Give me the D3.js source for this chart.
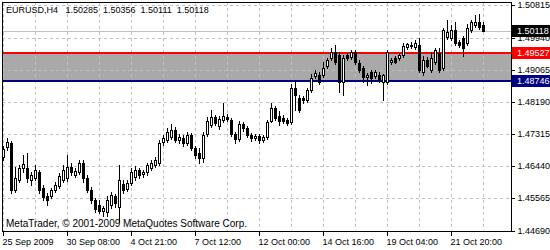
<!DOCTYPE html>
<html>
<head>
<meta charset="utf-8">
<script src="https://cdn.jsdelivr.net/npm/d3@7"></script>
<style>
body{margin:0;background:#fff;}
svg text{font-family:"Liberation Sans",Arial,sans-serif;font-size:9px;}
</style>
</head>
<body>
<script>
//chart texts
var titleText = "EURUSD,H4   1.50285  1.50356  1.50111  1.50118";
var copyText = "MetaTrader, \u00a9 2001-2009 MetaQuotes Software Corp.";

//price levels on the right scale
var priceTicks = [1.44690, 1.45565, 1.46440, 1.47315, 1.48190, 1.49065, 1.49940, 1.50815];

//date labels, one every 16 bars
var dateLabels = ["25 Sep 2009", "30 Sep 08:00", "4 Oct 21:00", "7 Oct 12:00",
                  "12 Oct 00:00", "14 Oct 16:00", "19 Oct 04:00", "21 Oct 20:00"];

//horizontal objects
var bidPrice = 1.50118;
var upperLevel = 1.49527;
var lowerLevel = 1.48746;

//H4 candles
var opens = [
1.4670,1.4697,1.4708,1.4580,1.4607,1.4640,1.4640,1.4607,1.4613,1.4629,
1.4586,1.4564,1.4564,1.4580,1.4591,1.4607,1.4613,1.4642,1.4621,1.4629,
1.4653,1.4613,1.4580,1.4553,1.4540,1.4523,1.4520,1.4540,1.4564,1.4534,
1.4596,1.4583,1.4599,1.4615,1.4634,1.4624,1.4629,1.4640,1.4648,1.4653,
1.4710,1.4716,1.4724,1.4743,1.4716,1.4721,1.4708,1.4729,1.4694,1.4680,
1.4667,1.4732,1.4756,1.4778,1.4754,1.4770,1.4778,1.4770,1.4732,1.4718,
1.4759,1.4748,1.4729,1.4721,1.4726,1.4716,1.4724,1.4767,1.4802,1.4781,
1.4775,1.4770,1.4764,1.4857,1.4829,1.4829,1.4824,1.4851,1.4889,1.4892,
1.4892,1.4916,1.4938,1.4954,1.4946,1.4873,1.4946,1.4941,1.4954,1.4924,
1.4911,1.4886,1.4900,1.4889,1.4892,1.4873,1.4873,1.4927,1.4938,1.4938,
1.4946,1.4968,1.4973,1.4968,1.4973,1.4900,1.4932,1.4905,1.4927,1.4951,
1.4911,1.4995,1.4992,1.5014,1.4981,1.4992,1.4978,1.5014,1.5027,1.5035,
1.50285];

var highs = [
1.4699,1.4721,1.4713,1.4642,1.4648,1.4675,1.4680,1.4629,1.4648,1.4634,
1.4594,1.4572,1.4586,1.4602,1.4626,1.4648,1.4675,1.4653,1.4640,1.4661,
1.4661,1.4621,1.4588,1.4558,1.4553,1.4537,1.4564,1.4575,1.4569,1.4648,
1.4607,1.4607,1.4640,1.4645,1.4640,1.4634,1.4653,1.4661,1.4670,1.4716,
1.4729,1.4748,1.4759,1.4751,1.4732,1.4729,1.4737,1.4735,1.4699,1.4694,
1.4737,1.4778,1.4797,1.4783,1.4781,1.4816,1.4786,1.4775,1.4737,1.4767,
1.4764,1.4754,1.4735,1.4732,1.4732,1.4729,1.4770,1.4816,1.4808,1.4794,
1.4783,1.4775,1.4867,1.4878,1.4838,1.4835,1.4857,1.4895,1.4905,1.4900,
1.4927,1.4938,1.4965,1.4973,1.4954,1.4946,1.4951,1.4960,1.4960,1.4932,
1.4916,1.4897,1.4905,1.4905,1.4900,1.4895,1.4960,1.4938,1.4943,1.4951,
1.4978,1.4978,1.4981,1.4987,1.4992,1.4943,1.4941,1.4954,1.4965,1.4965,
1.5019,1.5041,1.5027,1.5035,1.4987,1.4997,1.5030,1.5041,1.5054,1.5057,
1.50356];

var lows = [
1.4661,1.4689,1.4572,1.4575,1.4602,1.4629,1.4602,1.4594,1.4607,1.4572,
1.4553,1.4540,1.4558,1.4575,1.4586,1.4602,1.4605,1.4621,1.4615,1.4624,
1.4602,1.4575,1.4545,1.4520,1.4518,1.4510,1.4510,1.4531,1.4534,1.4493,
1.4572,1.4577,1.4594,1.4607,1.4613,1.4615,1.4621,1.4634,1.4642,1.4648,
1.4702,1.4710,1.4718,1.4710,1.4708,1.4699,1.4702,1.4689,1.4667,1.4653,
1.4656,1.4726,1.4751,1.4756,1.4745,1.4764,1.4767,1.4726,1.4708,1.4713,
1.4740,1.4724,1.4713,1.4716,1.4708,1.4710,1.4718,1.4764,1.4770,1.4756,
1.4762,1.4756,1.4759,1.4797,1.4792,1.4816,1.4819,1.4846,1.4884,1.4867,
1.4886,1.4911,1.4932,1.4922,1.4846,1.4838,1.4932,1.4935,1.4922,1.4900,
1.4873,1.4865,1.4870,1.4884,1.4873,1.4824,1.4867,1.4922,1.4924,1.4932,
1.4941,1.4962,1.4965,1.4962,1.4900,1.4892,1.4913,1.4900,1.4922,1.4900,
1.4905,1.4989,1.4987,1.4973,1.4968,1.4943,1.4973,1.5008,1.5022,1.5016,
1.50111];

var closes = [
1.4691,1.4710,1.4580,1.4613,1.4640,1.4651,1.4613,1.4621,1.4634,1.4580,
1.4561,1.4553,1.4580,1.4594,1.4618,1.4634,1.4642,1.4629,1.4632,1.4653,
1.4613,1.4580,1.4553,1.4529,1.4523,1.4531,1.4553,1.4567,1.4545,1.4607,
1.4580,1.4599,1.4629,1.4634,1.4621,1.4629,1.4648,1.4653,1.4661,1.4708,
1.4721,1.4737,1.4743,1.4716,1.4724,1.4708,1.4729,1.4694,1.4675,1.4667,
1.4729,1.4767,1.4778,1.4762,1.4772,1.4781,1.4772,1.4732,1.4718,1.4759,
1.4748,1.4729,1.4721,1.4726,1.4716,1.4724,1.4764,1.4802,1.4775,1.4767,
1.4767,1.4762,1.4857,1.4838,1.4797,1.4824,1.4851,1.4884,1.4897,1.4873,
1.4911,1.4932,1.4954,1.4927,1.4873,1.4938,1.4938,1.4954,1.4927,1.4905,
1.4886,1.4892,1.4884,1.4900,1.4878,1.4892,1.4954,1.4932,1.4927,1.4946,
1.4970,1.4976,1.4970,1.4978,1.4905,1.4932,1.4916,1.4938,1.4960,1.4905,
1.5014,1.5008,1.5014,1.4978,1.4973,1.4965,1.5019,1.5035,1.5035,1.5022,
1.50118];

(function(){

    var width = 550, height = 250;
    var left = 2, right = 511, top = 2, bottom = 231;

    var svg = d3.select("body")
        .append("svg")
        .attr("width", width)
        .attr("height", height)
        .attr("shape-rendering", "crispEdges");

    //bar index -> x, price -> y
    var x = d3.scaleLinear()
        .domain([0, opens.length - 1])
        .range([3, 3 + 4 * (opens.length - 1)]);

    var y = d3.scaleLinear()
        .domain([1.44690, 1.50815])
        .range([230.7, 5.3]);

    function py(p){ return Math.round(y(p)); }

    //grey rectangle between the two levels
    svg.append("rect")
        .attr("x", left)
        .attr("y", py(upperLevel))
        .attr("width", right - left)
        .attr("height", py(lowerLevel) - py(upperLevel))
        .attr("fill", "#a9a9a9");

    //grid
    var vGrid = d3.range(0, opens.length, 8);
    svg.selectAll(".vgrid")
        .data(vGrid)
        .enter()
        .append("line")
        .attr("class", "vgrid")
        .attr("x1", function(d){ return Math.round(x(d)) + 0.5; })
        .attr("x2", function(d){ return Math.round(x(d)) + 0.5; })
        .attr("y1", top)
        .attr("y2", bottom)
        .attr("stroke", "#c0c0c0")
        .attr("stroke-dasharray", "3,3");

    svg.selectAll(".hgrid")
        .data(priceTicks)
        .enter()
        .append("line")
        .attr("class", "hgrid")
        .attr("x1", left)
        .attr("x2", right)
        .attr("y1", function(d){ return py(d) + 0.5; })
        .attr("y2", function(d){ return py(d) + 0.5; })
        .attr("stroke", "#c0c0c0")
        .attr("stroke-dasharray", "3,3");

    //bid line
    svg.append("line")
        .attr("x1", left).attr("x2", right)
        .attr("y1", py(bidPrice) + 0.5).attr("y2", py(bidPrice) + 0.5)
        .attr("stroke", "#c0c0c0");

    //level lines
    svg.append("rect")
        .attr("x", left).attr("width", right - left)
        .attr("y", py(upperLevel) - 1).attr("height", 2)
        .attr("fill", "#ff0000");
    svg.append("rect")
        .attr("x", left).attr("width", right - left)
        .attr("y", py(lowerLevel) - 1).attr("height", 2)
        .attr("fill", "#000080");

    //chart texts
    svg.append("text")
        .attr("x", 6).attr("y", 13)
        .style("white-space", "pre")
        .text(titleText);
    svg.append("text")
        .attr("x", 6).attr("y", 227)
        .style("font-size", "10px")
        .text(copyText);

    //candles
    var bars = d3.range(opens.length);
    var candle = svg.selectAll(".candle")
        .data(bars)
        .enter()
        .append("g")
        .attr("class", "candle");

    candle.append("rect")
        .attr("x", function(i){ return Math.round(x(i)); })
        .attr("width", 1)
        .attr("y", function(i){ return py(highs[i]); })
        .attr("height", function(i){ return py(lows[i]) - py(highs[i]) + 1; })
        .attr("fill", "#000");

    candle.append("rect")
        .attr("x", function(i){ return Math.round(x(i)) - 1; })
        .attr("width", 3)
        .attr("y", function(i){ return py(Math.max(opens[i], closes[i])); })
        .attr("height", function(i){ return py(Math.min(opens[i], closes[i])) - py(Math.max(opens[i], closes[i])) + 1; })
        .attr("fill", "#000");

    //white inside of bull bodies
    candle.filter(function(i){
            return closes[i] > opens[i] && py(opens[i]) - py(closes[i]) >= 2;
        })
        .append("rect")
        .attr("x", function(i){ return Math.round(x(i)); })
        .attr("width", 1)
        .attr("y", function(i){ return py(closes[i]) + 1; })
        .attr("height", function(i){ return py(opens[i]) - py(closes[i]) - 1; })
        .attr("fill", "#fff");

    //frame
    svg.append("rect")
        .attr("x", left + 0.5).attr("y", top + 0.5)
        .attr("width", right - left).attr("height", bottom - top)
        .attr("fill", "none")
        .attr("stroke", "#000");

    //price scale
    var yAxis = svg.append("g")
        .attr("transform", "translate(" + (right + 0.5) + ",0)")
        .call(d3.axisRight(y)
            .tickValues(priceTicks)
            .tickFormat(d3.format(".5f"))
            .tickSize(3)
            .tickPadding(3));
    yAxis.select(".domain").remove();
    yAxis.selectAll(".tick").attr("transform", function(d){ return "translate(0," + (py(d) + 0.5) + ")"; });
    yAxis.selectAll("text").attr("fill", "#000");

    //time scale
    var xAxis = svg.append("g")
        .attr("transform", "translate(0," + (bottom + 0.5) + ")")
        .call(d3.axisBottom(x)
            .tickValues(d3.range(0, opens.length, 16))
            .tickFormat(function(d, i){ return dateLabels[i]; })
            .tickSize(4)
            .tickPadding(3));
    xAxis.select(".domain").remove();
    xAxis.selectAll(".tick").attr("transform", function(d){ return "translate(" + (Math.round(x(d)) + 0.5) + ",0)"; });
    xAxis.selectAll("text")
        .attr("text-anchor", "start")
        .attr("x", -1)
        .attr("fill", "#000");

    //price labels on the scale
    var tags = [
        {p: bidPrice, bg: "#000000"},
        {p: upperLevel, bg: "#ff0000"},
        {p: lowerLevel, bg: "#000080"}
    ];
    var tag = svg.selectAll(".tag")
        .data(tags)
        .enter()
        .append("g")
        .attr("class", "tag");
    tag.append("rect")
        .attr("x", right + 1)
        .attr("width", width - right - 1)
        .attr("y", function(d){ return py(d.p) - 6; })
        .attr("height", 12)
        .attr("fill", function(d){ return d.bg; });
    tag.append("text")
        .attr("x", right + 6)
        .attr("y", function(d){ return py(d.p); })
        .attr("dy", "0.35em")
        .attr("fill", "#fff")
        .text(function(d){ return d3.format(".5f")(d.p); });

})();
</script>
</body>
</html>
